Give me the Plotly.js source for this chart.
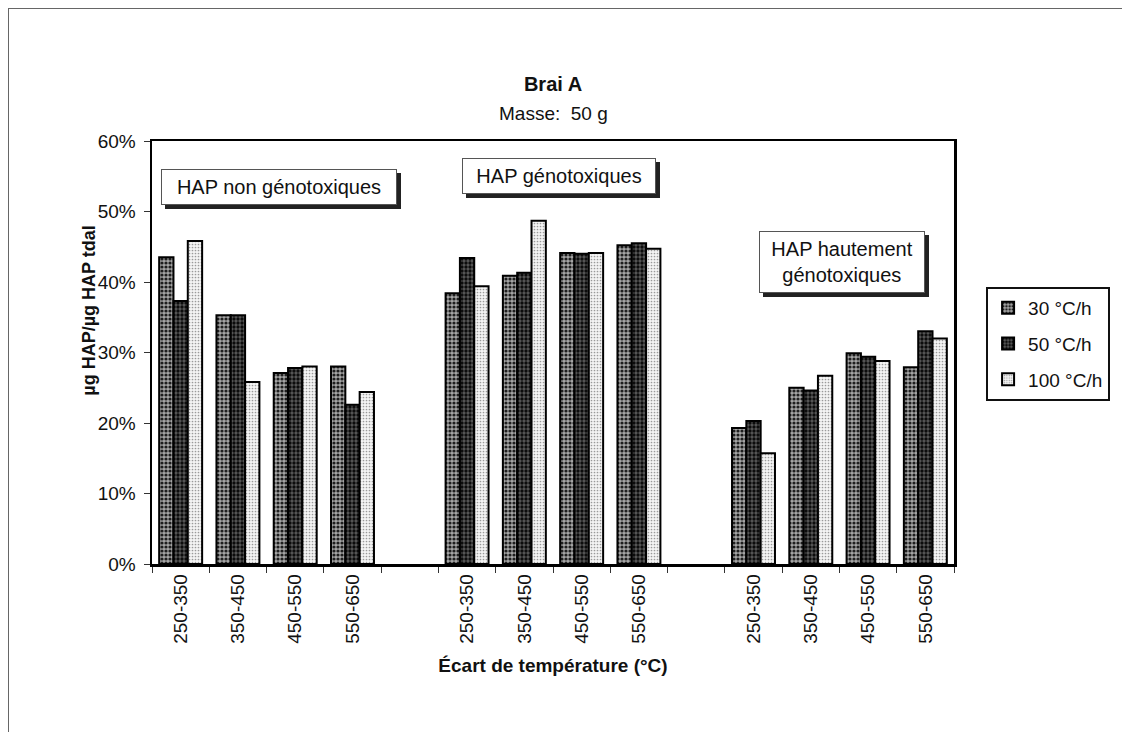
<!DOCTYPE html>
<html>
<head>
<meta charset="utf-8">
<script src="https://cdn.plot.ly/plotly-3.0.1.min.js"></script>
<style>
html,body{margin:0;padding:0;background:#fff;overflow:hidden;}
#frame{position:absolute;left:8px;top:8px;width:1300px;height:900px;border:1px solid #666;box-sizing:border-box;pointer-events:none;z-index:5;}
#chart{position:absolute;left:0;top:0;width:1122px;height:732px;}
</style>
</head>
<body>
<div id="chart"></div>
<div id="frame"></div>
<script>
// ---- data ----
const groupLabels = ['HAP non génotoxiques', 'HAP génotoxiques', 'HAP hautement<br>génotoxiques'];
const ranges = ['250-350', '350-450', '450-550', '550-650'];
const seriesNames = ['30 °C/h', '50 °C/h', '100 °C/h'];
const v30  = [43.5, 35.3, 27.1, 28.0,  38.4, 40.9, 44.1, 45.2,  19.3, 25.0, 29.9, 27.9];
const v50  = [37.3, 35.3, 27.8, 22.6,  43.4, 41.3, 44.0, 45.5,  20.3, 24.6, 29.4, 33.0];
const v100 = [45.8, 25.8, 28.0, 24.4,  39.4, 48.7, 44.1, 44.7,  15.7, 26.7, 28.8, 32.0];
const yTickVals = [0, 10, 20, 30, 40, 50, 60];
const yTickText = ['0%', '10%', '20%', '30%', '40%', '50%', '60%'];

// category slots: each group of 4 ranges followed by an empty slot
const xs = [], xt = [];
groupLabels.forEach((g, gi) => ranges.forEach((r, ri) => { xs.push(gi * 5 + ri); xt.push(r); }));

const styles = [
  {bg: '#a6a6a6', fg: '#1e1e1e', shape: '.', size: 4, sol: 0.5},
  {bg: '#5a5a5a', fg: '#0c0c0c', shape: '.', size: 4, sol: 0.55},
  {bg: '#f4f4f4', fg: '#9a9a9a', shape: '.', size: 3, sol: 0.25}
];
const vals = [v30, v50, v100];

const traces = seriesNames.map((name, i) => ({
  type: 'bar',
  name: name,
  x: xs,
  y: vals[i],
  legendgroup: 'g' + i,
  marker: {
    color: styles[i].bg,
    line: {color: '#000', width: 2},
    pattern: {shape: styles[i].shape, fillmode: 'replace', bgcolor: styles[i].bg,
              fgcolor: styles[i].fg, size: styles[i].size, solidity: styles[i].sol}
  },
  hoverinfo: 'none'
}));

const annFont = {family: 'Liberation Sans, Arial, sans-serif', size: 20, color: '#111'};
function boxAnn(text, x, y, w, h) {
  const base = {x: x, y: y, xref: 'x', yref: 'y', showarrow: false, font: annFont,
    borderpad: 6, borderwidth: 1, align: 'center', valign: 'middle', width: w, height: h};
  return [
    Object.assign({}, base, {text: ' ', xshift: 4, yshift: -4, bgcolor: '#222', bordercolor: '#222'}),
    Object.assign({}, base, {text: text, bgcolor: '#fff', bordercolor: '#555'})
  ];
}

const annotations = [].concat(
  boxAnn(groupLabels[0], 1.71, 53.5, 222, 22),
  boxAnn(groupLabels[1], 6.60, 55.0, 180, 22),
  boxAnn(groupLabels[2], 11.54, 42.8, 152, 48),
  [{text: 'Masse:\u00a0\u00a050 g', xref: 'paper', yref: 'paper', x: 0.5, y: 1.064,
    yanchor: 'middle', showarrow: false,
    font: {family: 'Liberation Sans, Arial, sans-serif', size: 19, color: '#111'}},
   {text: '<b>µg HAP/µg HAP tdal</b>', xref: 'paper', yref: 'paper', textangle: -90,
    x: -0.078, y: 0.60, xanchor: 'center', yanchor: 'middle', showarrow: false,
    font: {family: 'Liberation Sans, Arial, sans-serif', size: 18, color: '#111'}}]
);

const layout = {
  width: 1122, height: 732,
  margin: {l: 152, r: 153, t: 141, b: 168},
  paper_bgcolor: '#fff', plot_bgcolor: '#fff',
  font: {family: 'Liberation Sans, Arial, sans-serif', size: 19, color: '#111'},
  title: {text: '<b>Brai A</b>', x: 0.5, xref: 'paper', y: 1 - 84 / 732, yref: 'container',
          yanchor: 'middle', font: {size: 20, color: '#111'}},
  barmode: 'group', bargap: 0.25, bargroupgap: 0,
  showlegend: true,
  legend: {x: 1.04, y: 0.655, xanchor: 'left', yanchor: 'top',
           bordercolor: '#111', borderwidth: 2, bgcolor: '#fff',
           font: {size: 19, color: '#111'}, traceorder: 'grouped', tracegroupgap: 8,
           itemwidth: 30},
  xaxis: {
    range: [-0.5, 13.5], tickvals: xs, ticktext: xt, tickangle: -90,
    ticks: '', showgrid: false, zeroline: false,
    showline: true, mirror: true, linecolor: '#000', linewidth: 2.5,
    tickfont: {size: 19},
    minor: {tick0: -0.5, dtick: 1, ticks: 'outside', ticklen: 6, tickcolor: '#333', tickwidth: 1, showgrid: false},
    title: {text: '<b>Écart de température (°C)</b>', font: {size: 19}, standoff: 16},
    automargin: false, fixedrange: true
  },
  yaxis: {
    range: [0, 60], tickvals: yTickVals, ticktext: yTickText,
    ticks: 'outside', ticklen: 6, tickcolor: '#333', showgrid: false, zeroline: false,
    showline: true, mirror: true, linecolor: '#000', linewidth: 2.5,
    tickfont: {size: 19}, ticklabelstandoff: 4,
    automargin: false, fixedrange: true
  },
  annotations: annotations
};

Plotly.newPlot('chart', traces, layout, {displayModeBar: false, staticPlot: true});
</script>
</body>
</html>
